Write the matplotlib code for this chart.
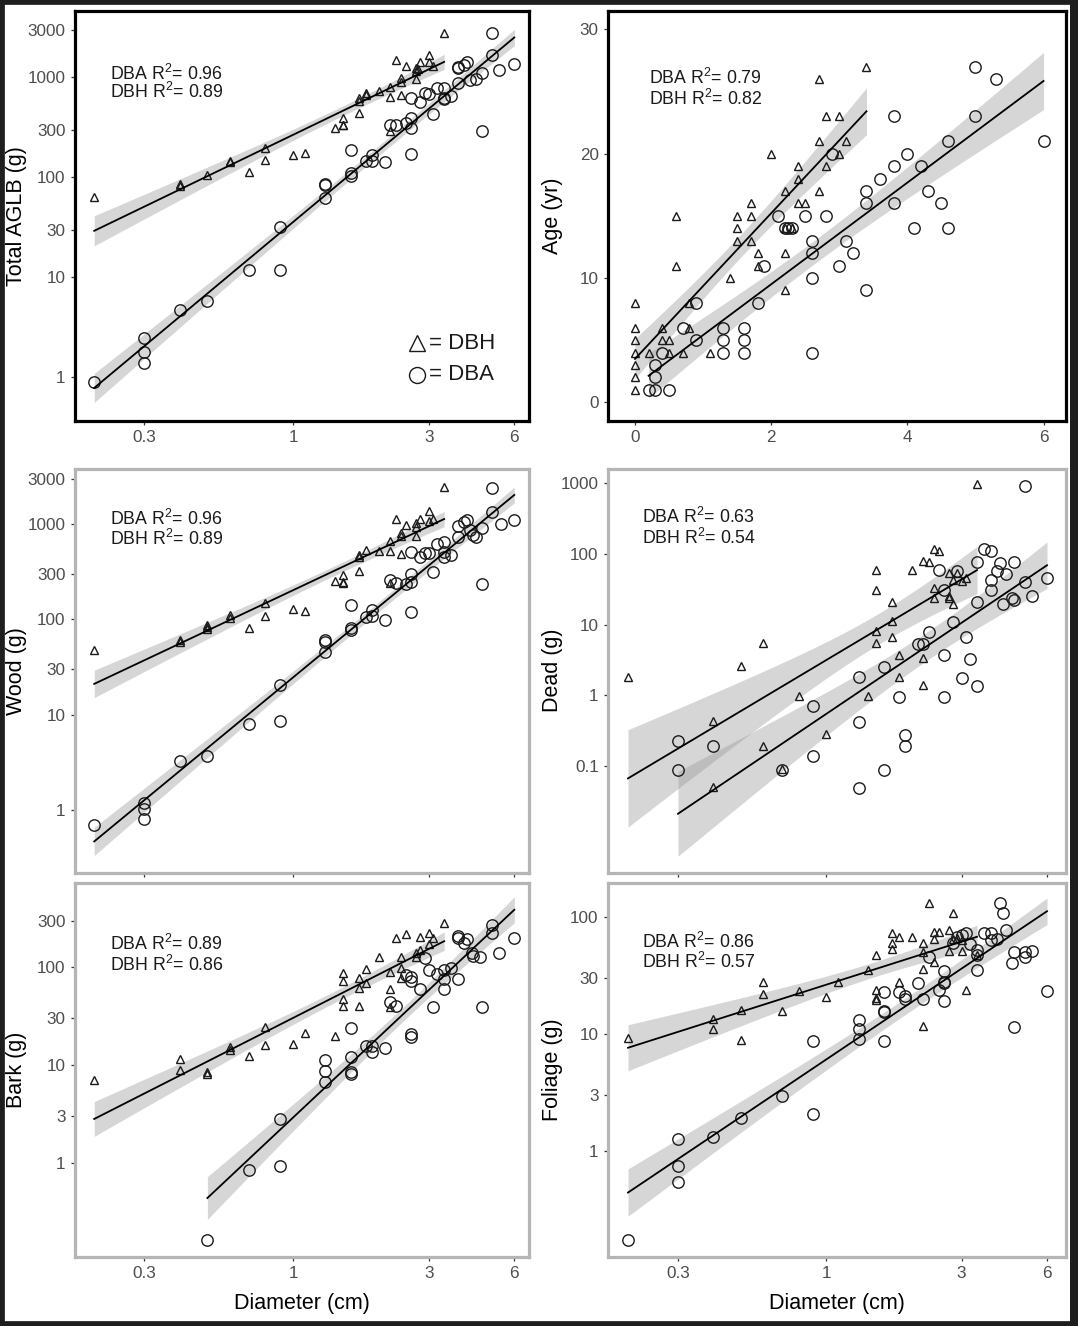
import numpy as np
import matplotlib
matplotlib.use('Agg')
from matplotlib import pyplot as plt
from matplotlib.patches import Rectangle

plt.rcParams['font.family'] = ['Liberation Sans', 'DejaVu Sans']
plt.rcParams['mathtext.fontset'] = 'custom'
plt.rcParams['mathtext.rm'] = 'Liberation Sans'
plt.rcParams['mathtext.it'] = 'Liberation Sans:italic'

# ---- Total AGLB (g) ----
aglb_dbh_d = [0.2, 0.4, 0.4, 0.5, 0.6, 0.6, 0.7, 0.8, 0.8, 1.0, 1.1, 1.4, 1.5, 1.5, 1.5, 1.7, 1.7, 1.7, 1.8,
              1.8, 2.0, 2.2, 2.2, 2.2, 2.3, 2.4, 2.4, 2.4, 2.5, 2.7, 2.7, 2.7, 2.75, 2.8, 3.0, 3.0, 3.1, 3.4]
aglb_dbh_v = [64, 85, 82, 106, 146, 142, 112, 198, 148, 167, 175, 311, 392, 336, 330, 440, 621, 586, 702,
              660, 724, 800, 631, 288, 1479, 984, 898, 670, 1288, 1240, 1164, 962, 1200, 1422, 1683, 1413, 1300, 2793]
aglb_dba_d = [0.2, 0.3, 0.3, 0.3, 0.4, 0.5, 0.7, 0.9, 0.9, 1.3, 1.3, 1.3, 1.6, 1.6, 1.6, 1.8, 1.9, 1.9, 2.1,
              2.2, 2.3, 2.5, 2.6, 2.6, 2.6, 2.6, 2.8, 2.9, 3.0, 3.1, 3.2, 3.4, 3.4, 3.4, 3.6, 3.8, 3.8, 3.8,
              4.0, 4.1, 4.2, 4.4, 4.6, 4.6, 5.0, 5.0, 5.3, 6.0]
aglb_dba_v = [0.9, 2.5, 1.8, 1.4, 4.7, 5.8, 11.8, 32, 11.7, 86, 83, 62, 189, 110, 104, 145, 166, 146, 142,
              331, 331, 349, 621, 392, 311, 172, 566, 697, 681, 430, 781, 781, 620, 611, 646, 1259, 1230, 877,
              1343, 1422, 940, 962, 1096, 288, 2775, 1660, 1191, 1358]

# ---- Age (yr) ----
age_dbh_d = [0, 0, 0, 0, 0, 0, 0, 0.2, 0.4, 0.4, 0.5, 0.5, 0.6, 0.6, 0.7, 0.8, 0.8, 1.1, 1.4, 1.5, 1.5, 1.5,
             1.7, 1.7, 1.7, 1.8, 1.8, 2.0, 2.2, 2.2, 2.2, 2.2, 2.3, 2.4, 2.4, 2.4, 2.5, 2.7, 2.7, 2.7, 2.8, 2.8,
             3.0, 3.0, 3.1, 3.4]
age_dbh_v = [8, 6, 5, 4, 3, 2, 1, 4, 6, 5, 5, 4, 15, 11, 4, 8, 6, 4, 10, 15, 14, 13,
             16, 15, 13, 12, 11, 20, 17, 12, 9, 14, 14, 19, 18, 16, 16, 26, 21, 17, 23, 19,
             23, 20, 21, 27]
age_dba_d = [0.2, 0.3, 0.3, 0.3, 0.5, 0.4, 0.7, 0.9, 0.9, 1.3, 1.3, 1.3, 1.6, 1.6, 1.6, 1.8, 1.9, 2.1, 2.2,
             2.25, 2.3, 2.5, 2.6, 2.6, 2.6, 2.6, 2.8, 2.9, 3.0, 3.1, 3.2, 3.4, 3.4, 3.4, 3.6, 3.8, 3.8, 3.8,
             4.0, 4.1, 4.2, 4.3, 4.5, 4.6, 4.6, 5.0, 5.0, 5.3, 6.0]
age_dba_v = [1, 1, 2, 3, 1, 4, 6, 8, 5, 6, 5, 4, 6, 5, 4, 8, 11, 15, 14,
             14, 14, 15, 13, 12, 10, 4, 15, 20, 11, 13, 12, 17, 16, 9, 18, 23, 19, 16,
             20, 14, 19, 17, 16, 21, 14, 27, 23, 26, 21]

# ---- Wood (g) ----
wood_dbh_d = [0.2, 0.4, 0.4, 0.5, 0.5, 0.5, 0.6, 0.6, 0.7, 0.8, 0.8, 1.0, 1.1, 1.4, 1.5, 1.5, 1.5, 1.7, 1.7,
              1.7, 1.8, 2.0, 2.2, 2.2, 2.2, 2.3, 2.4, 2.4, 2.4, 2.5, 2.7, 2.7, 2.7, 2.8, 3.0, 3.0, 3.1, 3.4]
wood_dbh_v = [47.7, 60.7, 58, 87, 83, 79, 111, 102, 82, 147, 108, 127, 123, 255, 292, 249, 240, 324, 473,
              447, 535, 521, 668, 521, 240, 1122, 795, 755, 486, 977, 1016, 940, 748, 1122, 1380, 1080, 1122, 2428]
wood_dba_d = [0.2, 0.3, 0.3, 0.3, 0.4, 0.5, 0.7, 0.9, 0.9, 1.3, 1.3, 1.3, 1.6, 1.6, 1.6, 1.8, 1.9, 1.9, 2.1,
              2.2, 2.3, 2.5, 2.6, 2.6, 2.6, 2.6, 2.8, 2.9, 3.0, 3.1, 3.2, 3.4, 3.4, 3.4, 3.6, 3.8, 3.8, 4.0,
              4.1, 4.2, 4.3, 4.4, 4.6, 4.6, 5.0, 5.0, 5.4, 6.0]
wood_dba_v = [0.70, 1.17, 1.02, 0.80, 3.3, 3.7, 7.9, 20.5, 8.6, 60.7, 58, 45.8, 141, 82, 77, 105, 125, 108, 98,
              259, 243, 235, 513, 299, 248, 120, 447, 500, 500, 314, 617, 653, 513, 454, 473, 724, 955, 1057,
              1100, 855, 770, 736, 901, 235, 1349, 2366, 1000, 1100]

# ---- Dead (g) ----
dead_dbh_d = [0.2, 0.4, 0.4, 0.5, 0.6, 0.6, 0.7, 0.8, 1.0, 1.4, 1.5, 1.5, 1.5, 1.5, 1.7, 1.7, 1.7, 1.8, 1.8,
              2.0, 2.2, 2.2, 2.2, 2.3, 2.4, 2.4, 2.4, 2.5, 2.7, 2.7, 2.7, 2.8, 2.8, 2.9, 3.0, 3.1, 3.4]
dead_dbh_v = [1.85, 0.43, 0.052, 2.57, 5.5, 0.197, 0.091, 0.97, 0.288, 0.97, 59, 31, 8, 5.5, 21, 11.3, 6.7,
              3.75, 1.8, 58, 78, 3.4, 1.41, 77, 118, 33, 24, 110, 53, 25.6, 23.6, 19.7, 43, 53, 41, 46, 944]
dead_dba_d = [0.3, 0.3, 0.4, 0.7, 0.9, 0.9, 1.3, 1.3, 1.3, 1.6, 1.6, 1.8, 1.9, 1.9, 2.1, 2.2, 2.3, 2.5, 2.6,
              2.6, 2.6, 2.8, 2.9, 3.0, 3.1, 3.2, 3.4, 3.4, 3.4, 3.6, 3.8, 3.8, 3.8, 4.0, 4.1, 4.2, 4.3, 4.5,
              4.6, 4.6, 5.0, 5.0, 5.3, 6.0]
dead_dba_v = [0.23, 0.089, 0.195, 0.089, 0.70, 0.14, 1.8, 0.42, 0.049, 2.5, 0.089, 0.94, 0.28, 0.195, 5.4,
              5.4, 7.8, 58, 3.75, 0.94, 31, 11, 56, 1.76, 6.6, 3.3, 1.38, 20.7, 77, 116, 110, 42, 31, 56, 73,
              19.7, 52, 23.7, 22.5, 75, 912, 40, 25.5, 45]

# ---- Bark (g) ----
bark_dbh_d = [0.2, 0.4, 0.4, 0.5, 0.5, 0.6, 0.6, 0.7, 0.8, 0.8, 1.0, 1.1, 1.4, 1.5, 1.5, 1.5, 1.5, 1.7, 1.7,
              1.7, 1.8, 1.8, 2.0, 2.2, 2.2, 2.2, 2.3, 2.4, 2.4, 2.4, 2.5, 2.7, 2.7, 2.8, 2.8, 3.0, 3.0, 3.1, 3.4]
bark_dbh_v = [7.0, 11.6, 8.9, 8.55, 8.1, 15.4, 14.3, 12.4, 24.7, 16, 16.3, 21.4, 19.8, 87, 72.5, 47, 40, 78,
              61, 40, 97, 70, 129, 90, 60, 39, 201, 129, 99, 77, 220, 139, 129, 150, 206, 226, 173, 201, 283]
bark_dba_d = [0.5, 0.7, 0.9, 0.9, 1.3, 1.3, 1.3, 1.6, 1.6, 1.6, 1.6, 1.8, 1.9, 1.9, 2.1, 2.2, 2.3, 2.5, 2.6,
              2.6, 2.6, 2.6, 2.8, 2.9, 3.0, 3.1, 3.2, 3.4, 3.4, 3.4, 3.6, 3.8, 3.8, 3.8, 4.0, 4.1, 4.25, 4.3,
              4.55, 4.6, 5.0, 5.0, 5.3, 6.0]
bark_dba_v = [0.16, 0.84, 2.8, 0.92, 11.2, 8.75, 6.75, 24, 12, 8.55, 8.1, 15.8, 15.8, 13.7, 14.8, 44.5, 40,
              83.5, 80, 72, 21, 19.5, 60, 124, 94, 39.5, 85, 94, 76, 60, 98, 75.5, 210, 200, 176, 194, 139,
              130, 128, 39.5, 272, 223, 139, 198]

# ---- Foliage (g) ----
fol_dbh_d = [0.2, 0.4, 0.4, 0.5, 0.5, 0.6, 0.6, 0.7, 0.8, 1.0, 1.1, 1.4, 1.5, 1.5, 1.5, 1.5, 1.7, 1.7, 1.7,
             1.8, 1.8, 2.0, 2.2, 2.2, 2.2, 2.2, 2.3, 2.4, 2.4, 2.4, 2.5, 2.7, 2.7, 2.8, 2.8, 2.9, 3.0, 3.0,
             3.1, 3.4]
fol_dbh_v = [9.3, 13.4, 11, 16, 8.9, 27.5, 21.7, 15.8, 23.4, 20.5, 27.6, 35.3, 47, 23.6, 20.1, 19.5, 73, 60,
             52.6, 67, 27.9, 66.5, 60, 50, 35.5, 11.7, 131, 73.5, 64, 41.2, 73.5, 77, 51, 108, 64, 66, 63, 51,
             23.6, 47]
fol_dba_d = [0.2, 0.3, 0.3, 0.3, 0.4, 0.5, 0.7, 0.9, 0.9, 1.3, 1.3, 1.3, 1.6, 1.6, 1.6, 1.6, 1.8, 1.9, 1.9,
             2.1, 2.2, 2.3, 2.5, 2.6, 2.6, 2.6, 2.6, 2.8, 2.9, 3.0, 3.1, 3.2, 3.4, 3.4, 3.4, 3.6, 3.8, 3.8,
             4.0, 4.1, 4.2, 4.3, 4.5, 4.6, 4.6, 5.0, 5.0, 5.3, 6.0]
fol_dba_v = [0.174, 1.27, 0.75, 0.54, 1.33, 1.9, 2.97, 8.7, 2.05, 13.1, 10.9, 9.0, 22.9, 15.8, 15.5, 8.7,
             22.9, 21, 20, 27, 19.8, 45, 23.7, 34.6, 27.5, 27, 19, 59, 67.5, 70, 73, 58.5, 52, 47, 35, 73, 73,
             63, 65, 130, 107, 77, 40.5, 50, 11.5, 50, 45, 51, 23.4]

r2_text = {
    'aglb': ('0.96', '0.89'),
    'age': ('0.79', '0.82'),
    'wood': ('0.96', '0.89'),
    'dead': ('0.63', '0.54'),
    'bark': ('0.89', '0.86'),
    'fol': ('0.86', '0.57'),
}

W, H = 1078, 1326
INK = '#1a1a1a'


def fit_band(x, y, xs, t=2.02):
    # ordinary least squares with 95% confidence band of the mean
    x = np.asarray(x, float)
    y = np.asarray(y, float)
    n = len(x)
    b, a = np.polyfit(x, y, 1)
    s = np.sqrt(np.sum((y - (a + b * x)) ** 2) / (n - 2))
    sxx = np.sum((x - x.mean()) ** 2)
    yh = a + b * xs
    se = s * np.sqrt(1.0 / n + (xs - x.mean()) ** 2 / sxx)
    return yh, yh - t * se, yh + t * se


def add_axes(fig, box):
    l, t, r, b = box
    return fig.add_axes([l / W, 1 - b / H, (r - l) / W, (b - t) / H])


def draw_panel(ax, dbh, dba, log=True):
    for (d, v) in (dbh, dba):
        d = np.asarray(d, float)
        v = np.asarray(v, float)
        if log:
            keep = d > 0
            x, y = np.log10(d[keep]), np.log10(v[keep])
        else:
            x, y = d, v
        xs = np.linspace(x.min(), x.max(), 100)
        yh, lo, hi = fit_band(x, y, xs)
        if log:
            xs, yh, lo, hi = 10 ** xs, 10 ** yh, 10 ** lo, 10 ** hi
        ax.fill_between(xs, lo, hi, color='#999999', alpha=0.4, lw=0, zorder=1)
        ax.plot(xs, yh, color='black', lw=1.3, zorder=4)

    ax.plot(dbh[0], dbh[1], ls='none', marker='^', ms=6.3, mfc='none', mec=INK, mew=1.0, zorder=3)
    ax.plot(dba[0], dba[1], ls='none', marker='o', ms=8.2, mfc='none', mec=INK, mew=1.0, zorder=3)
    if log:
        ax.set_xscale('log')
        ax.set_yscale('log')


def style_axes(ax, frame_color, yticks, ylabel, xticks, xlabels, show_x, row_bottom, col):
    for sp in ax.spines.values():
        sp.set_color(frame_color)
        sp.set_linewidth(2.3)
    ax.set_yticks(yticks)
    ax.set_yticklabels([('%g' % t) for t in yticks])
    ax.set_xticks(xticks)
    ax.set_xticklabels(xlabels)
    ax.minorticks_off()
    ax.tick_params(direction='out', length=3.2, width=0.9, color='#333333',
                   labelsize=12.3, labelcolor='#4d4d4d', pad=3.5)
    ax.tick_params(axis='x', labelbottom=show_x)
    ax.set_ylabel(ylabel, fontsize=15.5, va='center', color='black')
    ax.yaxis.set_label_coords(-0.128 if col == 0 else -0.121, 0.5)
    if row_bottom:
        ax.set_xlabel('Diameter (cm)', fontsize=15.5, va='center', color='black')
        ax.xaxis.set_label_coords(0.5, -0.123)


def r2_label(ax, vals, x, y1, y2):
    ax.text(x, y1, 'DBA R$^2$= %s' % vals[0], transform=ax.transAxes, fontsize=12.8,
            va='center', ha='left', color=INK)
    ax.text(x, y2, 'DBH R$^2$= %s' % vals[1], transform=ax.transAxes, fontsize=12.8,
            va='center', ha='left', color=INK)


def main():
    fig = plt.figure(figsize=(W / 100, H / 100), dpi=100)
    fig.patch.set_facecolor('white')

    log_xt = [0.3, 1, 3, 6]
    log_xl = ['0.3', '1', '3', '6']

    # Row 1
    ax = add_axes(fig, (75, 11, 529, 421))
    draw_panel(ax, (aglb_dbh_d, aglb_dbh_v), (aglb_dba_d, aglb_dba_v))
    ax.set_xlim(0.1712, 6.757)
    ax.set_ylim(0.3656, 4605)
    style_axes(ax, 'black', [1, 10, 30, 100, 300, 1000, 3000], 'Total AGLB (g)', log_xt, log_xl, True, False, 0)
    r2_label(ax, r2_text['aglb'], 0.076, 0.846, 0.802)
    ax.plot([0.7526], [0.1895], transform=ax.transAxes, marker='^', ms=11, mfc='none', mec=INK, mew=1.0)
    ax.plot([0.7526], [0.1122], transform=ax.transAxes, marker='o', ms=11.5, mfc='none', mec=INK, mew=1.0)
    ax.text(0.779, 0.1895, '= DBH', transform=ax.transAxes, fontsize=16, va='center', ha='left', color=INK)
    ax.text(0.779, 0.1122, '= DBA', transform=ax.transAxes, fontsize=16, va='center', ha='left', color=INK)

    ax = add_axes(fig, (608, 11, 1066, 421))
    draw_panel(ax, (age_dbh_d, age_dbh_v), (age_dba_d, age_dba_v), log=False)
    ax.set_xlim(-0.396, 6.33)
    ax.set_ylim(-1.5, 31.48)
    style_axes(ax, 'black', [0, 10, 20, 30], 'Age (yr)', [0, 2, 4, 6], ['0', '2', '4', '6'], True, False, 1)
    r2_label(ax, r2_text['age'], 0.0895, 0.837, 0.785)

    # Row 2
    ax = add_axes(fig, (75, 468.5, 529, 873))
    draw_panel(ax, (wood_dbh_d, wood_dbh_v), (wood_dba_d, wood_dba_v))
    ax.set_xlim(0.1712, 6.757)
    ax.set_ylim(0.218, 3822)
    style_axes(ax, '#b5b5b5', [1, 10, 30, 100, 300, 1000, 3000], 'Wood (g)', log_xt, log_xl, False, False, 0)
    r2_label(ax, r2_text['wood'], 0.076, 0.875, 0.826)

    ax = add_axes(fig, (608, 468.5, 1066, 873))
    draw_panel(ax, (dead_dbh_d, dead_dbh_v), (dead_dba_d, dead_dba_v))
    ax.set_xlim(0.170, 7.0)
    ax.set_ylim(0.00314, 1585)
    style_axes(ax, '#b5b5b5', [0.1, 1, 10, 100, 1000], 'Dead (g)', log_xt, log_xl, False, False, 1)
    r2_label(ax, r2_text['dead'], 0.075, 0.879, 0.829)

    # Row 3
    ax = add_axes(fig, (75, 883, 529, 1257))
    draw_panel(ax, (bark_dbh_d, bark_dbh_v), (bark_dba_d, bark_dba_v))
    ax.set_xlim(0.1712, 6.757)
    ax.set_ylim(0.1083, 731)
    style_axes(ax, '#b5b5b5', [1, 3, 10, 30, 100, 300], 'Bark (g)', log_xt, log_xl, True, True, 0)
    r2_label(ax, r2_text['bark'], 0.076, 0.837, 0.781)

    ax = add_axes(fig, (608, 883, 1066, 1257))
    draw_panel(ax, (fol_dbh_d, fol_dbh_v), (fol_dba_d, fol_dba_v))
    ax.set_xlim(0.170, 7.0)
    ax.set_ylim(0.1247, 193.5)
    style_axes(ax, '#b5b5b5', [1, 3, 10, 30, 100], 'Foliage (g)', log_xt, log_xl, True, True, 1)
    r2_label(ax, r2_text['fol'], 0.075, 0.843, 0.79)

    # dark frame around the whole picture (a little wider on the right edge)
    fig.patches.append(Rectangle((0, 0), 1, 1, transform=fig.transFigure, fill=False,
                                 lw=7, ec='#1e1e1e', zorder=10))
    fig.patches.append(Rectangle((1070 / W, 0), 8 / W, 1, transform=fig.transFigure,
                                 fc='#1e1e1e', ec='none', zorder=10))

    fig.savefig('out.png', dpi=100, facecolor='white')


if __name__ == '__main__':
    main()
